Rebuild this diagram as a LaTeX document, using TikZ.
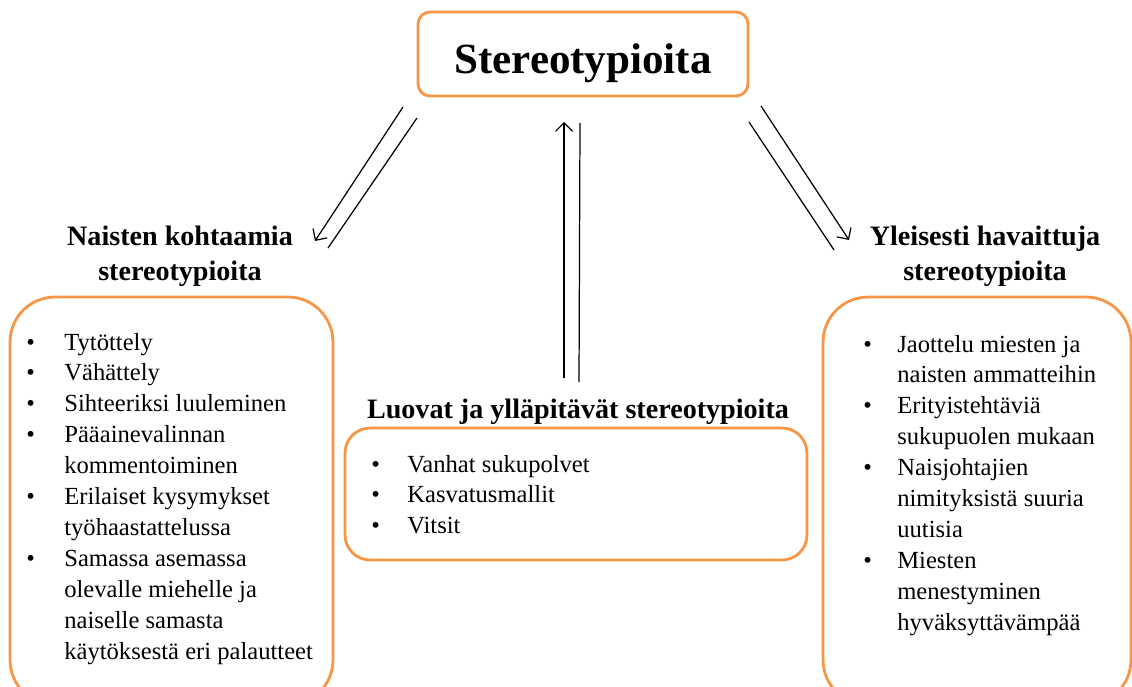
\documentclass[tikz,border=0pt]{standalone}
\usepackage{fontspec}
\setmainfont{Liberation Serif}
\usetikzlibrary{arrows.meta}
\definecolor{boxorange}{RGB}{247,150,70}

\begin{document}
\begin{tikzpicture}[x=0.02cm,y=-0.02cm,
	box/.style={draw=boxorange,line width=1.6pt,rounded corners=#1,inner sep=0pt},
	head/.style={font=\fontsize{16}{19.8}\selectfont\bfseries,align=center,inner sep=0pt,anchor=north},
	items/.style={font=\fontsize{14}{17.6}\selectfont,inner sep=0pt,anchor=north west},
	link/.style={line width=0.7pt},
	arr/.style={link,-{Straight Barb[length=1.7mm,width=3.4mm]}}]
\useasboundingbox (0,0) rectangle (1132,686);
\node[box=0.24cm,minimum width=6.6cm,minimum height=1.68cm] (topbox) at (583,54) {};
\node[font=\fontsize{24.5}{29}\selectfont\bfseries,anchor=base,inner sep=0pt] (title) at (583,73) {Stereotypioita};

\node[head] (lefthead) at (180,226) {Naisten kohtaamia\\stereotypioita};
\node[head] (righthead) at (985,226) {Yleisesti havaittuja\\stereotypioita};
\node[head] (midhead) at (578,399) {Luovat ja ylläpitävät stereotypioita};

\node[box=0.9cm,minimum width=6.46cm,minimum height=8.16cm] (leftbox) at (171.5,501) {};
\node[box=0.9cm,minimum width=6.16cm,minimum height=8.16cm] (rightbox) at (977,501) {};
\node[box=0.5cm,minimum width=9.24cm,minimum height=2.64cm] (midbox) at (576,494) {};

\node[items] (leftlist) at (26,328) {\begin{tabular}{@{}p{0.76cm}@{}l@{}}
	\textbullet & Tytöttely\\
	\textbullet & Vähättely\\
	\textbullet & Sihteeriksi luuleminen\\
	\textbullet & Pääainevalinnan\\
	 & kommentoiminen\\
	\textbullet & Erilaiset kysymykset\\
	 & työhaastattelussa\\
	\textbullet & Samassa asemassa\\
	 & olevalle miehelle ja\\
	 & naiselle samasta\\
	 & käytöksestä eri palautteet
\end{tabular}};
\node[items] (rightlist) at (863,330) {\begin{tabular}{@{}p{0.68cm}@{}l@{}}
	\textbullet & Jaottelu miesten ja\\
	 & naisten ammatteihin\\
	\textbullet & Erityistehtäviä\\
	 & sukupuolen mukaan\\
	\textbullet & Naisjohtajien\\
	 & nimityksistä suuria\\
	 & uutisia\\
	\textbullet & Miesten\\
	 & menestyminen\\
	 & hyväksyttävämpää
\end{tabular}};
\node[items] (midlist) at (371,450) {\begin{tabular}{@{}p{0.72cm}@{}l@{}}
	\textbullet & Vanhat sukupolvet\\
	\textbullet & Kasvatusmallit\\
	\textbullet & Vitsit
\end{tabular}};

\coordinate (la) at (403,107);
\coordinate (lb) at (315,241);
\coordinate (lc) at (417,118);
\coordinate (ld) at (328,248);
\coordinate (ma) at (564,378);
\coordinate (mb) at (564,122);
\coordinate (mc) at (580,123);
\coordinate (md) at (579,382);
\coordinate (ra) at (761,106);
\coordinate (rb) at (849,240);
\coordinate (rc) at (749,122);
\coordinate (rd) at (834,250);
\draw[arr] (la) -- (lb);
\draw[link] (lc) -- (ld);
\draw[arr] (ma) -- (mb);
\draw[link] (mc) -- (md);
\draw[arr] (ra) -- (rb);
\draw[link] (rc) -- (rd);
\end{tikzpicture}
\end{document}
